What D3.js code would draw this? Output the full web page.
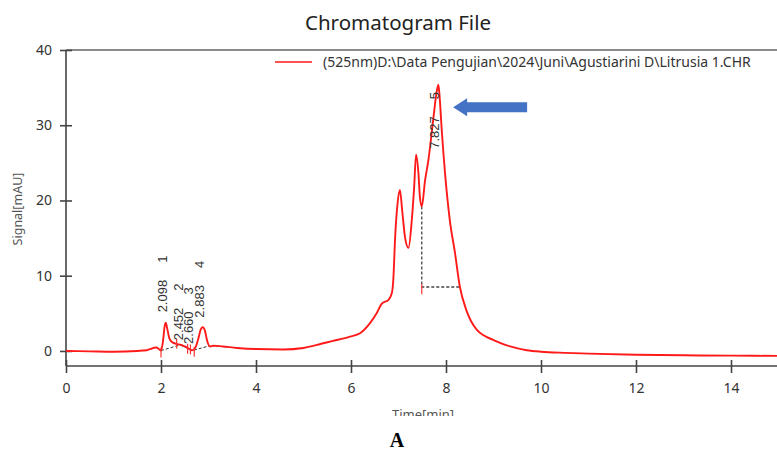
<!DOCTYPE html>
<html>
<head>
<meta charset="utf-8">
<script src="https://cdn.jsdelivr.net/npm/d3@7"></script>
<style>
  body { margin: 0; background: #fff; }
  svg { display: block; }
</style>
</head>
<body>
<svg id="chart" width="777" height="453"></svg>
<script>
// signal trace (time in min, signal in mAU)
const times = [0, 0.5, 1.0, 1.5, 1.7, 1.9, 1.95, 2.0, 2.04, 2.08, 2.1, 2.13, 2.18, 2.25, 2.35, 2.45,
  2.55, 2.65, 2.72, 2.78, 2.84, 2.88, 2.92, 2.97, 3.03, 3.1, 3.3, 3.6, 4.0, 4.57, 5.0, 5.28, 5.6,
  5.98, 6.19, 6.4, 6.54, 6.65, 6.79, 6.86, 6.89, 6.93, 6.98, 7.03, 7.08, 7.14, 7.21, 7.28, 7.33,
  7.37, 7.42, 7.45, 7.49, 7.56, 7.63, 7.73, 7.8, 7.84, 7.87, 7.91, 7.98, 8.08, 8.19, 8.29, 8.43,
  8.65, 8.8, 9.0, 9.35, 9.7, 10.0, 10.5, 11.0, 12.0, 13.0, 14.0, 15.0];
const signal = [0, -0.05, -0.1, 0, 0.1, 0.45, 0.3, 0.05, 1.2, 3.4, 3.75, 3.0, 1.6, 1.1, 0.9, 0.75,
  0.45, 0.1, 0.4, 1.5, 2.9, 3.15, 2.8, 1.4, 0.6, 0.7, 0.6, 0.4, 0.25, 0.2, 0.4, 0.8, 1.3,
  1.9, 2.35, 3.7, 5.0, 6.3, 6.8, 7.7, 9.4, 15.2, 19.6, 21.4, 18.5, 15.0, 13.7, 17.4, 21.8,
  26.1, 23.6, 20.5, 19.2, 22.7, 25.4, 30.7, 34.3, 35.4, 33.4, 29.4, 23.6, 17.4, 13.0, 8.6, 5.4,
  2.8, 2.05, 1.45, 0.6, 0.1, -0.1, -0.25, -0.35, -0.5, -0.58, -0.62, -0.66];

// integrated peaks
const peakTimes = [2.098, 2.452, 2.660, 2.883, 7.827];
const peakNames = ["1", "2", "3", "4", "5"];
const peakLabelSignal = [3.8, 0.1, -0.4, 3.1, 35.4];

// drawn baselines (dashed)
const baseTimes = [2.0, 2.4, 2.66, 3.03];
const baseSignal = [0.05, 0.8, 0.05, 0.7];
const dropTimes = [7.49, 7.49, 8.29];
const dropSignal = [19.2, 8.5, 8.5];

// peak start / end markers
const markerTimes = [2.0, 2.33, 2.56, 2.62, 2.70, 7.49];
const markerSignal = [-0.2, 1.0, 0.3, 0.2, -0.1, 8.2];

const xTicks = [0, 2, 4, 6, 8, 10, 12, 14];
const yTicks = [0, 10, 20, 30, 40];

const legendText = "(525nm)D:\\Data Pengujian\\2024\\Juni\\Agustiarini D\\Litrusia 1.CHR";

const svg = d3.select("#chart");
const mLeft = 66, mTop = 50, mBottom = 366, mRight = 777;

const x = d3.scaleLinear().domain([0, 15]).range([mLeft, mLeft + 15 * 47.5]);
const y = d3.scaleLinear().domain([-2, 40]).range([mBottom, mTop]);

const axisColor = "#444";
const sans = "'Noto Sans', 'DejaVu Sans', sans-serif";

// title
svg.append("text")
  .attr("x", 398).attr("y", 30)
  .attr("text-anchor", "middle")
  .attr("font-family", sans).attr("font-size", 20.5)
  .attr("fill", "#222")
  .text("Chromatogram File");

// frame top
svg.append("line")
  .attr("x1", mLeft).attr("x2", mRight).attr("y1", mTop).attr("y2", mTop)
  .attr("stroke", "#666").attr("stroke-width", 1.5);

// x axis
const gx = svg.append("g")
  .attr("transform", `translate(0,${mBottom})`)
  .call(d3.axisBottom(x).tickValues(xTicks).tickSize(7).tickSizeOuter(0).tickPadding(10));
gx.select(".domain").attr("d", `M${mLeft},0H${mRight}`).attr("stroke", axisColor).attr("stroke-width", 1.6);
gx.selectAll(".tick line").attr("y1", -6).attr("y2", 7).attr("stroke", axisColor).attr("stroke-width", 1.6);
gx.selectAll(".tick text")
  .attr("font-family", sans).attr("font-size", 14).attr("fill", "#333");

// y axis
const gy = svg.append("g")
  .attr("transform", `translate(${mLeft},0)`)
  .call(d3.axisLeft(y).tickValues(yTicks).tickSize(6).tickSizeOuter(0).tickPadding(8));
gy.select(".domain").attr("d", `M0,${mTop}V${mBottom}`).attr("stroke", axisColor).attr("stroke-width", 1.6);
gy.selectAll(".tick line").attr("x1", -6).attr("x2", 6).attr("stroke", axisColor).attr("stroke-width", 1.6);
gy.selectAll(".tick text")
  .attr("font-family", sans).attr("font-size", 14).attr("fill", "#333");

// axis titles
svg.append("text")
  .attr("transform", "translate(22,209) rotate(-90)")
  .attr("text-anchor", "middle")
  .attr("font-family", sans).attr("font-size", 12.5).attr("fill", "#555")
  .text("Signal[mAU]");

svg.append("clipPath").attr("id", "cut")
  .append("rect").attr("x", 0).attr("y", 0).attr("width", 777).attr("height", 416);
svg.append("text")
  .attr("x", 423).attr("y", 419)
  .attr("text-anchor", "middle")
  .attr("clip-path", "url(#cut)")
  .attr("font-family", sans).attr("font-size", 13).attr("fill", "#555")
  .text("Time[min]");

// dashed baselines
const dashLine = d3.line().x(d => x(d[0])).y(d => y(d[1]));
svg.append("path")
  .attr("d", dashLine(d3.zip(baseTimes, baseSignal)))
  .attr("fill", "none").attr("stroke", "#333").attr("stroke-width", 1)
  .attr("stroke-dasharray", "3,2");
svg.append("path")
  .attr("d", dashLine(d3.zip(dropTimes, dropSignal)))
  .attr("fill", "none").attr("stroke", "#444").attr("stroke-width", 1.3)
  .attr("stroke-dasharray", "3,2");

// signal trace
const trace = d3.line()
  .x(d => x(d[0])).y(d => y(d[1]))
  .curve(d3.curveMonotoneX);
svg.append("path")
  .attr("d", trace(d3.zip(times, signal)))
  .attr("fill", "none").attr("stroke", "#ff1a1a").attr("stroke-width", 1.9);

// peak markers
svg.selectAll(".marker")
  .data(d3.zip(markerTimes, markerSignal))
  .join("line")
  .attr("class", "marker")
  .attr("x1", d => x(d[0])).attr("x2", d => x(d[0]))
  .attr("y1", d => y(d[1]) - 5).attr("y2", d => y(d[1]) + 5)
  .attr("stroke", "#ff3333").attr("stroke-width", 1.2);

// peak labels (rotated)
const labels = svg.selectAll(".plabel")
  .data(d3.range(peakTimes.length))
  .join("text")
  .attr("class", "plabel")
  .attr("font-family", "'Liberation Sans', Arial, sans-serif")
  .attr("font-size", 13).attr("fill", "#333");
labels.append("tspan").text(i => peakTimes[i].toFixed(3));
labels.append("tspan").attr("dx", 17).text(i => peakNames[i]);
labels.each(function(i) {
  const len = this.getBBox().width;
  let start = y(peakLabelSignal[i]) - 10;
  if (start - len < mTop + 42) start = mTop + 42 + len;
  d3.select(this).attr("transform", `translate(${x(peakTimes[i]) + 1},${start}) rotate(-90)`);
});

// legend
svg.append("line")
  .attr("x1", 275).attr("x2", 312).attr("y1", 62).attr("y2", 62)
  .attr("stroke", "#ff1a1a").attr("stroke-width", 1.5);
svg.append("text")
  .attr("x", 323).attr("y", 67)
  .attr("font-family", sans).attr("font-size", 14).attr("fill", "#333")
  .text(legendText);

// blue arrow pointing at the main peak
const ax = x(8.15), ay = y(32.4);
svg.append("path")
  .attr("d", `M${ax},${ay} L${ax + 14},${ay - 9} L${ax + 14},${ay - 5} L${ax + 74},${ay - 5}
              L${ax + 74},${ay + 5} L${ax + 14},${ay + 5} L${ax + 14},${ay + 9} Z`)
  .attr("fill", "#4472c4");

// panel letter
svg.append("text")
  .attr("x", 397).attr("y", 447)
  .attr("text-anchor", "middle")
  .attr("font-family", "'Liberation Serif', 'Times New Roman', serif")
  .attr("font-weight", "bold").attr("font-size", 20)
  .text("A");
</script>
</body>
</html>
